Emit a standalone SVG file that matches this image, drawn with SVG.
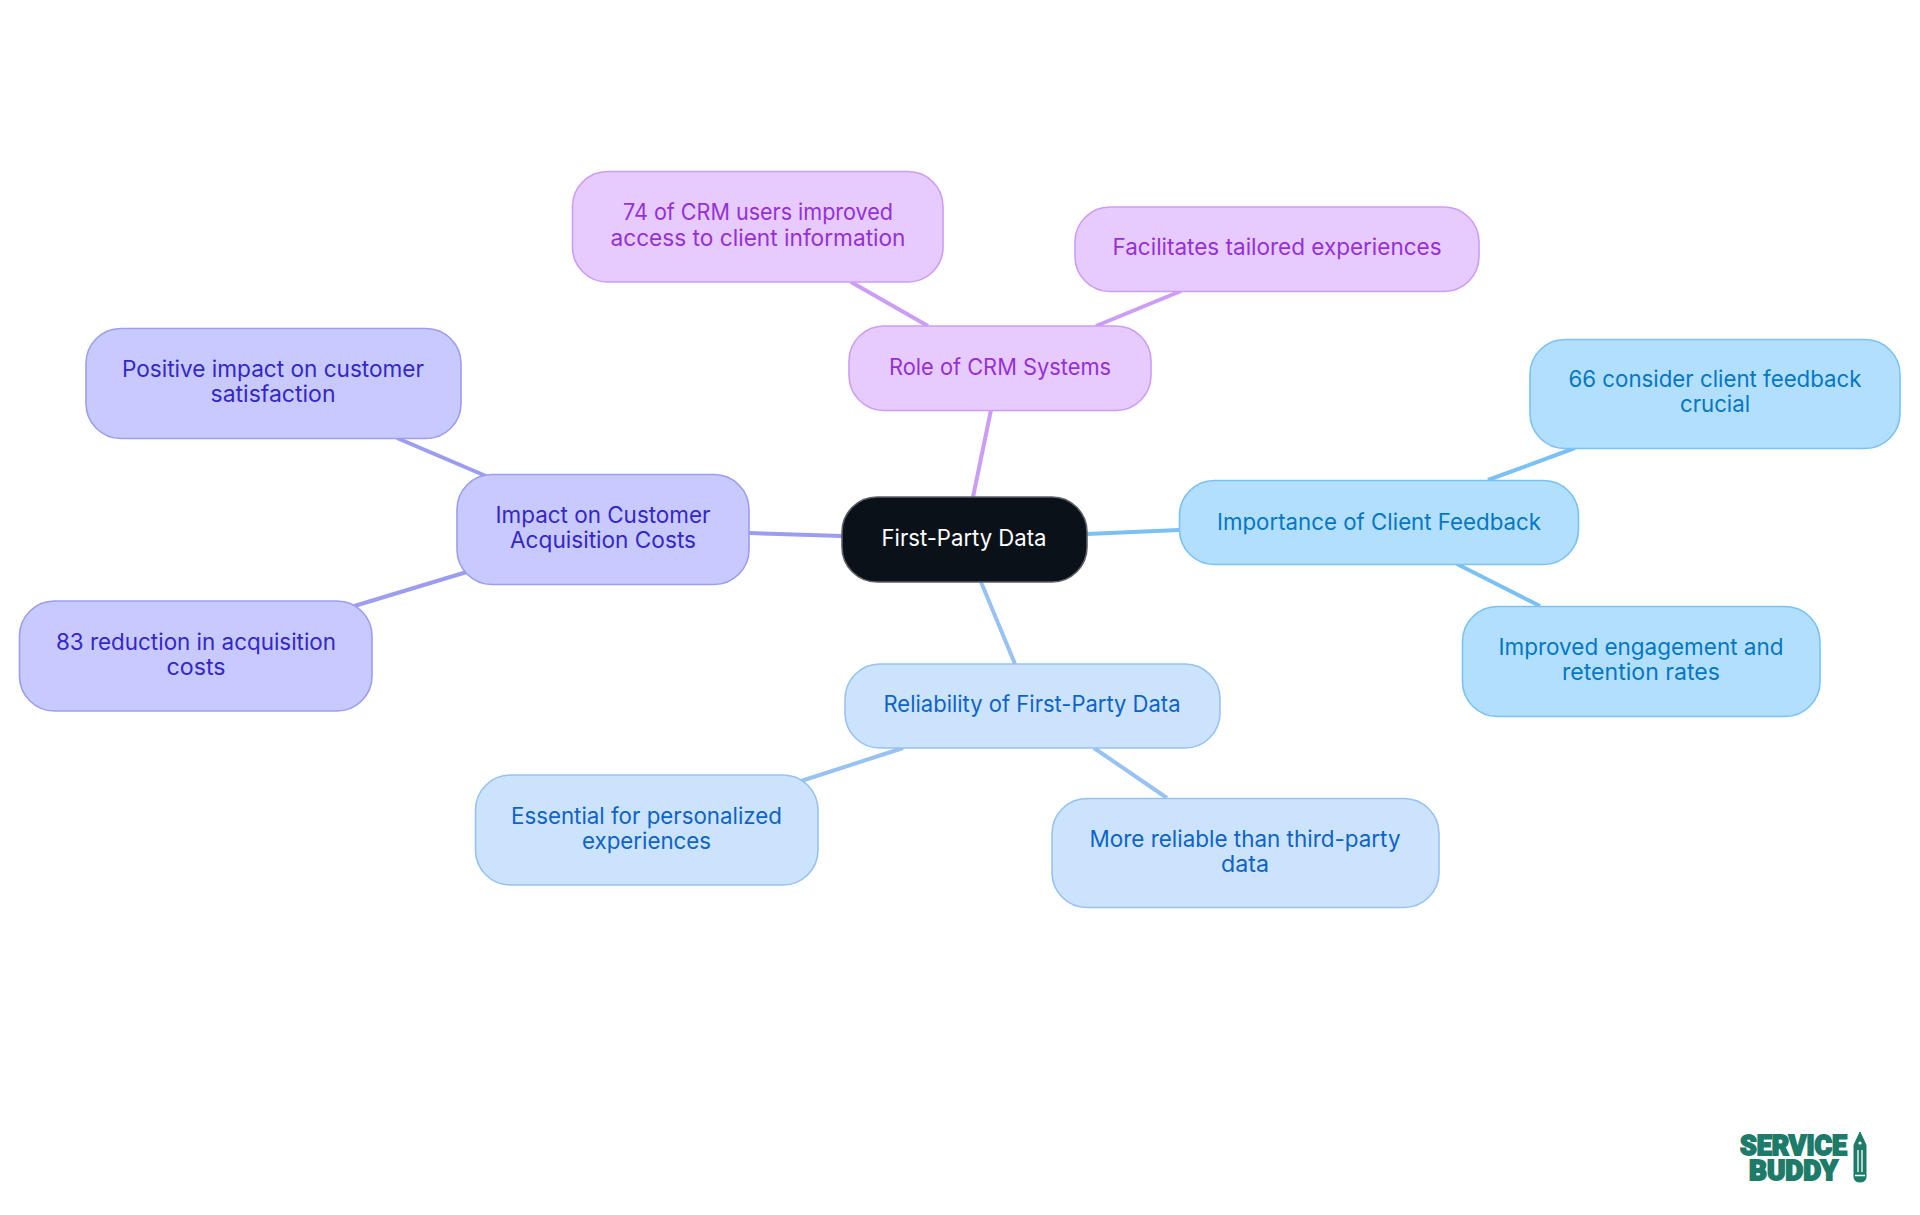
<svg xmlns="http://www.w3.org/2000/svg" width="1920" height="1215" viewBox="0 0 1920 1215">
<style>
text{font-family:"Inter","Noto Sans",sans-serif;font-size:22.4px;text-anchor:middle;font-weight:400}
.c{fill:none;stroke-width:4}
.n{stroke-width:1.6}
.root{fill:#0b1119;stroke:#5c6066}.rt{fill:#fff}
.sky{fill:#b3dfff;stroke:#7cc1f3}.skt{fill:#0477c4}
.blu{fill:#cce3fd;stroke:#97c2f1}.blt{fill:#0e63c7}
.ind{fill:#c8caff;stroke:#9c9df0}.int{fill:#3427c9}
.pur{fill:#e7cbff;stroke:#cc9df5}.put{fill:#9530d9}
text.logo{font-family:"Roboto","Liberation Sans",sans-serif;font-weight:900;font-size:28px;fill:#1e7b69;stroke:#1e7b69;stroke-width:1.8;text-anchor:start}
</style>
<rect width="1920" height="1215" fill="#fff"/>
<g id="connectors">
<path class="c" stroke="#cc9df5" d="M991 410L973 497M851 282L928 326M1181 291L1096 326"/>
<path class="c" stroke="#7cc1f3" d="M1087 534L1179 530M1575 448L1488 480M1540 606L1457 564"/>
<path class="c" stroke="#97c2f1" d="M981 582L1015 664M903 748L795 783M1094 748L1167 798"/>
<path class="c" stroke="#9c9df0" d="M749 533L842 536M397 438L486 476M351 607L470 571"/>
</g>
<g id="root"><rect class="n root" x="842" y="497" width="245" height="85" rx="35"/><text class="rt" x="964" y="546" textLength="165" lengthAdjust="spacingAndGlyphs">First-Party Data</text></g>
<g id="feedback"><rect class="n sky" x="1179.500" y="480.500" width="399" height="84" rx="35"/><text class="skt" x="1379" y="530" textLength="324" lengthAdjust="spacingAndGlyphs">Importance of Client Feedback</text></g>
<g id="feedback-a"><rect class="n sky" x="1530" y="339.500" width="370" height="109" rx="35"/><text class="skt" x="1715" y="387" textLength="293" lengthAdjust="spacingAndGlyphs">66 consider client feedback</text><text class="skt" x="1715" y="412" textLength="70" lengthAdjust="spacingAndGlyphs">crucial</text></g>
<g id="feedback-b"><rect class="n sky" x="1462.500" y="606.500" width="357.500" height="110" rx="35"/><text class="skt" x="1641" y="655" textLength="285" lengthAdjust="spacingAndGlyphs">Improved engagement and</text><text class="skt" x="1641" y="680" textLength="158" lengthAdjust="spacingAndGlyphs">retention rates</text></g>
<g id="reliability"><rect class="n blu" x="845" y="664" width="375" height="84" rx="35"/><text class="blt" x="1032" y="712" textLength="297" lengthAdjust="spacingAndGlyphs">Reliability of First-Party Data</text></g>
<g id="reliability-a"><rect class="n blu" x="475.500" y="775" width="342.500" height="110" rx="35"/><text class="blt" x="646.500" y="824" textLength="271" lengthAdjust="spacingAndGlyphs">Essential for personalized</text><text class="blt" x="646.500" y="849" textLength="129" lengthAdjust="spacingAndGlyphs">experiences</text></g>
<g id="reliability-b"><rect class="n blu" x="1052" y="798.500" width="387" height="109" rx="35"/><text class="blt" x="1245" y="847" textLength="311" lengthAdjust="spacingAndGlyphs">More reliable than third-party</text><text class="blt" x="1245" y="872" textLength="48" lengthAdjust="spacingAndGlyphs">data</text></g>
<g id="impact"><rect class="n ind" x="457" y="474.500" width="292" height="110" rx="35"/><text class="int" x="603" y="523" textLength="215" lengthAdjust="spacingAndGlyphs">Impact on Customer</text><text class="int" x="603" y="548" textLength="186" lengthAdjust="spacingAndGlyphs">Acquisition Costs</text></g>
<g id="impact-a"><rect class="n ind" x="86" y="328.500" width="375" height="110" rx="35"/><text class="int" x="273" y="377" textLength="302" lengthAdjust="spacingAndGlyphs">Positive impact on customer</text><text class="int" x="273" y="402" textLength="125" lengthAdjust="spacingAndGlyphs">satisfaction</text></g>
<g id="impact-b"><rect class="n ind" x="19.500" y="601" width="352.500" height="110" rx="35"/><text class="int" x="196" y="650" textLength="280" lengthAdjust="spacingAndGlyphs">83 reduction in acquisition</text><text class="int" x="196" y="675" textLength="59" lengthAdjust="spacingAndGlyphs">costs</text></g>
<g id="crm"><rect class="n pur" x="849" y="326" width="302" height="84.500" rx="35"/><text class="put" x="1000" y="375" textLength="222" lengthAdjust="spacingAndGlyphs">Role of CRM Systems</text></g>
<g id="crm-a"><rect class="n pur" x="572.500" y="171.500" width="370.500" height="110.500" rx="35"/><text class="put" x="758" y="220" textLength="270" lengthAdjust="spacingAndGlyphs">74 of CRM users improved</text><text class="put" x="758" y="246" textLength="295" lengthAdjust="spacingAndGlyphs">access to client information</text></g>
<g id="crm-b"><rect class="n pur" x="1075" y="207" width="404" height="84.500" rx="35"/><text class="put" x="1277" y="255" textLength="329" lengthAdjust="spacingAndGlyphs">Facilitates tailored experiences</text></g>
<g id="logo">
<text class="logo"><tspan x="1740" y="1155" textLength="107" lengthAdjust="spacingAndGlyphs">SERVICE</tspan><tspan x="1749" y="1179.500" textLength="89" lengthAdjust="spacingAndGlyphs">BUDDY</tspan></text>
<path d="M1860 1132L1866 1145V1177Q1866 1182 1860 1182Q1854 1182 1854 1177V1145Z" fill="#1e7b69" stroke="#1e7b69"/>
<circle cx="1860" cy="1143" r="1.600" fill="#fff"/>
<path d="M1858 1150V1172M1862 1150V1172" stroke="#fff" stroke-width="1.3"/>
<path d="M1855 1175.500H1865" stroke="#fff" stroke-width="1.500"/>
</g>
</svg>
